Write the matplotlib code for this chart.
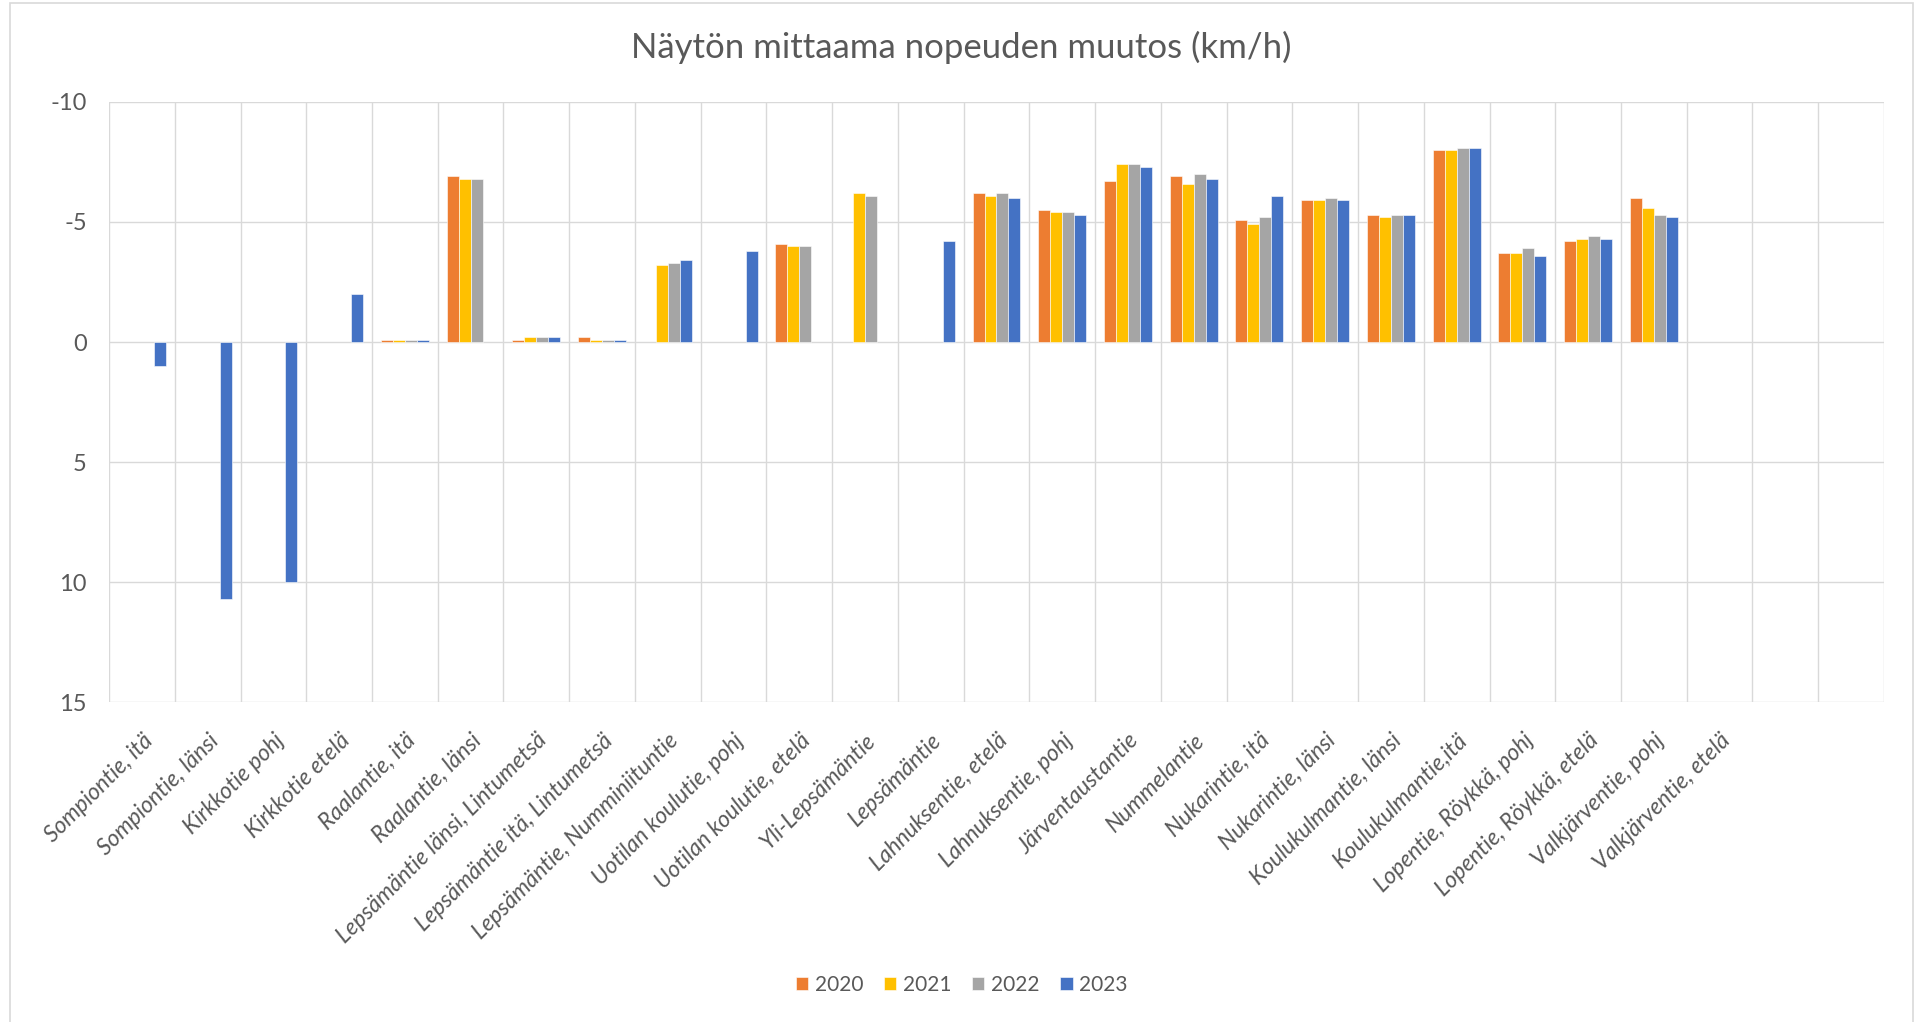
import numpy as np
import matplotlib
matplotlib.use('Agg')
import matplotlib.pyplot as plt
from matplotlib.patches import Rectangle
from matplotlib.ticker import FixedLocator
from matplotlib.transforms import ScaledTranslation

plt.rcParams['font.family'] = ['Lato', 'DejaVu Sans']
plt.rcParams['axes.unicode_minus'] = False

nan = np.nan

categories = ['Sompiontie, itä', 'Sompiontie, länsi', 'Kirkkotie pohj', 'Kirkkotie etelä',
              'Raalantie, itä', 'Raalantie, länsi', 'Lepsämäntie länsi, Lintumetsä',
              'Lepsämäntie itä, Lintumetsä', 'Lepsämäntie, Numminiituntie',
              'Uotilan koulutie, pohj', 'Uotilan koulutie, etelä', 'Yli-Lepsämäntie',
              'Lepsämäntie', 'Lahnuksentie, etelä', 'Lahnuksentie, pohj', 'Järventaustantie',
              'Nummelantie', 'Nukarintie, itä', 'Nukarintie, länsi', 'Koulukulmantie, länsi',
              'Koulukulmantie,itä', 'Lopentie, Röykkä, pohj', 'Lopentie, Röykkä, etelä',
              'Valkjärventie, pohj', 'Valkjärventie, etelä', '', '']

years = ['2020', '2021', '2022', '2023']

v2020 = [nan, nan, nan, nan, -0.1, -6.9, -0.1, -0.2, nan, nan, -4.1, nan, nan,
         -6.2, -5.5, -6.7, -6.9, -5.1, -5.9, -5.3, -8.0, -3.7, -4.2, -6.0, nan, nan, nan]
v2021 = [nan, nan, nan, nan, -0.1, -6.8, -0.2, -0.1, -3.2, nan, -4.0, -6.2, nan,
         -6.1, -5.4, -7.4, -6.6, -4.9, -5.9, -5.2, -8.0, -3.7, -4.3, -5.6, nan, nan, nan]
v2022 = [nan, nan, nan, nan, -0.1, -6.8, -0.2, -0.1, -3.3, nan, -4.0, -6.1, nan,
         -6.2, -5.4, -7.4, -7.0, -5.2, -6.0, -5.3, -8.1, -3.9, -4.4, -5.3, nan, nan, nan]
v2023 = [1.0, 10.7, 10.0, -2.0, -0.1, nan, -0.2, -0.1, -3.4, -3.8, nan, nan, -4.2,
         -6.0, -5.3, -7.3, -6.8, -6.1, -5.9, -5.3, -8.1, -3.6, -4.3, -5.2, nan, nan, nan]

yticks = [-10, -5, 0, 5, 10, 15]

colors = ['#ED7D31', '#FFC000', '#A5A5A5', '#4472C4']
grid_col = '#D9D9D9'
text_col = '#595959'

fig = plt.figure(figsize=(19.23, 10.22), dpi=100)
ax = fig.add_axes([0.0567, 0.3131, 0.9230, 0.5871])

# outer chart border
fig.patches.append(Rectangle((10 / 1923, -0.1), 1903 / 1923, 1.1 - 3 / 1022,
                             transform=fig.transFigure, fill=False,
                             edgecolor=grid_col, linewidth=1.2))

x = np.arange(len(categories))
w = 0.1825
series = [v2020, v2021, v2022, v2023]
for i, vals in enumerate(series):
    ax.bar(x + (i - 1.5) * w, vals, width=w, color=colors[i], label=years[i],
           edgecolor='white', linewidth=0.4, zorder=3)

ax.set_xlim(-0.5, len(categories) - 0.5)
ax.set_ylim(15, -10)
ax.set_yticks(yticks)
ax.set_yticklabels([str(t) for t in yticks])
ax.set_xticks(x)
ax.set_xticklabels(categories, rotation=45, ha='right', rotation_mode='anchor',
                   fontstyle='italic', fontsize=16.5, color=text_col)
ax.xaxis.set_minor_locator(FixedLocator(np.arange(-0.5, len(categories), 1.0)))

# shift the slanted labels a bit to the right, like excel does
shift = ScaledTranslation(0.11, 0, fig.dpi_scale_trans)
for lab in ax.get_xticklabels():
    lab.set_transform(lab.get_transform() + shift)

ax.tick_params(axis='y', length=0, pad=16, labelsize=17, labelcolor=text_col)
ax.tick_params(axis='x', which='both', length=0, pad=20)

ax.grid(axis='y', which='major', color=grid_col, linewidth=1.0, zorder=0)
ax.grid(axis='x', which='minor', color=grid_col, linewidth=1.0, zorder=0)
ax.grid(axis='x', which='major', visible=False)
ax.set_axisbelow(True)
for s in ax.spines.values():
    s.set_visible(False)

fig.text(0.5, 0.954, 'Näytön mittaama nopeuden muutos (km/h)', ha='center', va='center',
         fontsize=25, color=text_col)

fig.legend(loc='center', bbox_to_anchor=(0.5, 0.036), ncol=4, frameon=False,
           fontsize=15, handlelength=0.6, handleheight=0.6, handletextpad=0.3,
           columnspacing=1.0, labelcolor=text_col)

plt.savefig('out.png', dpi=100)
